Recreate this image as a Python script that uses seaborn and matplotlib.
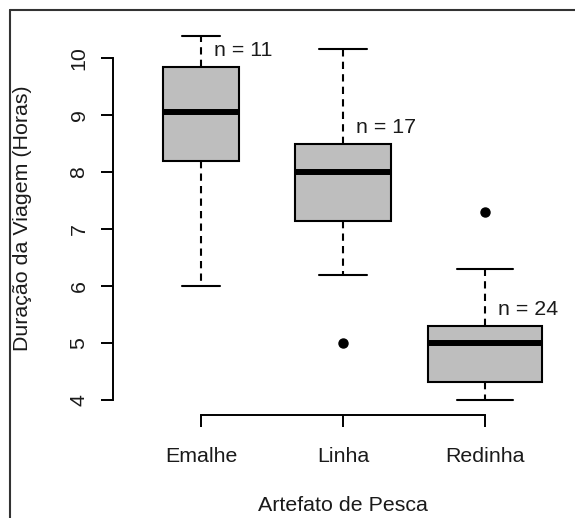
import numpy as np
import pandas as pd
import matplotlib
matplotlib.use("Agg")
import matplotlib.pyplot as plt
import seaborn as sns
from matplotlib.lines import Line2D

# resumo de cada boxplot (horas)
artefatos = ["Emalhe", "Linha", "Redinha"]
n_viagens = [11, 17, 24]
bigode_inf = [6.0, 6.2, 4.0]
quartil1 = [8.2, 7.15, 4.31]
mediana = [9.05, 8.0, 5.0]
quartil3 = [9.84, 8.5, 5.3]
bigode_sup = [10.4, 10.17, 6.3]
outliers = [[], [5.0], [7.3]]
n_label_y = [10.13, 8.79, 5.58]


def amostra(lo, q1, med, q3, hi, out):
    # 9 pontos cujos quartis (percentil linear) e bigodes reproduzem o resumo lido
    baixo = [o for o in out if o < q1]
    alto = [o for o in out if o > q3]
    return baixo + [lo] * (2 - len(baixo)) + [q1, q1, med, q3, q3] + [hi] * (2 - len(alto)) + alto


sns.set_theme(style="ticks")
plt.rcParams['font.family'] = ['Liberation Sans', 'DejaVu Sans']
fs = 15.4
txt = "#1a1a1a"

fig = plt.figure(figsize=(5.75, 5.18), dpi=100)
ax = fig.add_axes([113 / 575, 1 - 414.5 / 518, 460 / 575, (414.5 - 21.5) / 518])

# largura proporcional a sqrt(n), como varwidth=TRUE do R
larguras = 0.8 * np.sqrt(np.array(n_viagens) / max(n_viagens))

for i, cat in enumerate(artefatos):
    df = pd.DataFrame({
        "artefato": cat,
        "horas": amostra(bigode_inf[i], quartil1[i], mediana[i], quartil3[i], bigode_sup[i], outliers[i]),
    })
    sns.boxplot(data=df, x="artefato", y="horas", order=artefatos, width=larguras[i],
                color="#bebebe", saturation=1, linecolor="black", linewidth=1.5, whis=1.5,
                fliersize=6.5,
                whiskerprops=dict(linestyle=(0, (3.5, 2.5))),
                medianprops=dict(linewidth=4.3),
                flierprops=dict(marker="o", markerfacecolor="black", markeredgecolor="black"),
                ax=ax)

for i, n in enumerate(n_viagens):
    ax.text(i + 0.09, n_label_y[i], f"n = {n}", ha="left", va="center", fontsize=fs, color=txt)

ax.set_xlim(-0.62, 2.62)
ax.set_ylim(3.744, 10.646)
ax.set_yticks(range(4, 11))
ax.set_xticks(range(3))
ax.set_xticklabels(artefatos)
for s in ["top", "right"]:
    ax.spines[s].set_visible(False)
ax.spines["left"].set_bounds(4, 10)
ax.spines["bottom"].set_bounds(0, 2)
for s in ["left", "bottom"]:
    ax.spines[s].set_linewidth(1.4)
    ax.spines[s].set_color("black")
ax.tick_params(axis="both", length=8.6, width=1.4, labelsize=fs, color="black", labelcolor=txt)
ax.tick_params(axis="x", pad=15)
ax.tick_params(axis="y", pad=9)
plt.setp(ax.get_yticklabels(), rotation=90, va="center")

ax.set_ylabel("Duração da Viagem (Horas)", fontsize=fs, color=txt)
ax.set_xlabel("Artefato de Pesca", fontsize=fs, color=txt)
ax.yaxis.set_label_coords(-0.176, 0.5)
ax.xaxis.set_label_coords(0.5, -0.207)

# moldura da figura (so topo e esquerda aparecem)
fig.add_artist(Line2D([10 / 575, 1], [1 - 10 / 518, 1 - 10 / 518], transform=fig.transFigure, color="#333333", lw=1.5))
fig.add_artist(Line2D([10 / 575, 10 / 575], [0, 1 - 10 / 518], transform=fig.transFigure, color="#333333", lw=1.5))

fig.savefig("out.png", dpi=100)
